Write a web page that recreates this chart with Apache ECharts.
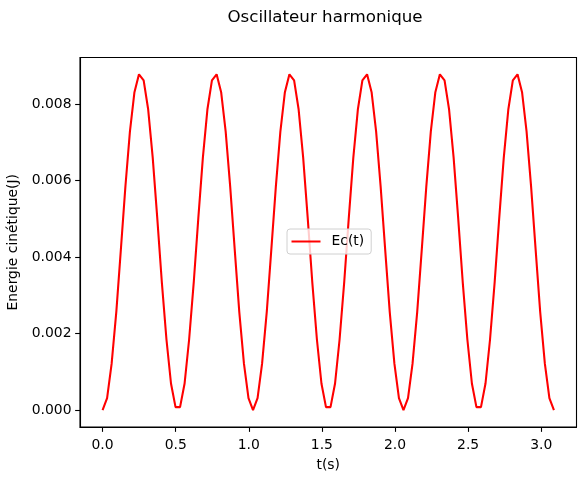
<!DOCTYPE html>
<html>
<head>
<meta charset="utf-8">
<script src="https://cdn.jsdelivr.net/npm/echarts@6/dist/echarts.min.js"></script>
<style>
html,body{margin:0;padding:0;background:#fff;}
#c{width:585px;height:480px;}
</style>
</head>
<body>
<div id="c"></div>
<script>
// Time samples (s)
const tValues = [
  0.000, 0.031, 0.062, 0.094, 0.125, 0.156, 0.187, 0.218, 0.249, 0.281,
  0.312, 0.343, 0.374, 0.405, 0.437, 0.468, 0.499, 0.530, 0.561, 0.592,
  0.624, 0.655, 0.686, 0.717, 0.748, 0.780, 0.811, 0.842, 0.873, 0.904,
  0.935, 0.967, 0.998, 1.029, 1.060, 1.091, 1.123, 1.154, 1.185, 1.216,
  1.247, 1.278, 1.310, 1.341, 1.372, 1.403, 1.434, 1.466, 1.497, 1.528,
  1.559, 1.590, 1.621, 1.653, 1.684, 1.715, 1.746, 1.777, 1.809, 1.840,
  1.871, 1.902, 1.933, 1.964, 1.996, 2.027, 2.058, 2.089, 2.120, 2.152,
  2.183, 2.214, 2.245, 2.276, 2.307, 2.339, 2.370, 2.401, 2.432, 2.463,
  2.495, 2.526, 2.557, 2.588, 2.619, 2.650, 2.682, 2.713, 2.744, 2.775,
  2.806, 2.838, 2.869, 2.900, 2.931, 2.962, 2.993, 3.025, 3.056, 3.087
];
// Kinetic energy Ec(t) (J)
const ecValues = [
  0.000000, 0.000315, 0.001216, 0.002572, 0.004191, 0.005839, 0.007281, 0.008311, 0.008780, 0.008622,
  0.007859, 0.006600, 0.005026, 0.003363, 0.001848, 0.000698, 0.000080, 0.000080, 0.000698, 0.001848,
  0.003363, 0.005026, 0.006600, 0.007859, 0.008622, 0.008780, 0.008311, 0.007281, 0.005839, 0.004191,
  0.002572, 0.001216, 0.000315, 0.000000, 0.000315, 0.001216, 0.002572, 0.004191, 0.005839, 0.007281,
  0.008311, 0.008780, 0.008622, 0.007859, 0.006600, 0.005026, 0.003363, 0.001848, 0.000698, 0.000080,
  0.000080, 0.000698, 0.001848, 0.003363, 0.005026, 0.006600, 0.007859, 0.008622, 0.008780, 0.008311,
  0.007281, 0.005839, 0.004191, 0.002572, 0.001216, 0.000315, 0.000000, 0.000315, 0.001216, 0.002572,
  0.004191, 0.005839, 0.007281, 0.008311, 0.008780, 0.008622, 0.007859, 0.006600, 0.005026, 0.003363,
  0.001848, 0.000698, 0.000080, 0.000080, 0.000698, 0.001848, 0.003363, 0.005026, 0.006600, 0.007859,
  0.008622, 0.008780, 0.008311, 0.007281, 0.005839, 0.004191, 0.002572, 0.001216, 0.000315, 0.000000
];
const xTicks = [0.0, 0.5, 1.0, 1.5, 2.0, 2.5, 3.0];
const yTicks = [0.000, 0.002, 0.004, 0.006, 0.008];

const seriesData = tValues.map((t, i) => [t, ecValues[i]]);
const FONT = 'DejaVu Sans';

const chart = echarts.init(document.getElementById('c'), null, {renderer: 'canvas'});
chart.setOption({
  animation: false,
  backgroundColor: '#ffffff',
  title: {
    text: 'Oscillateur harmonique',
    left: 320,
    top: 4,
    textAlign: 'center',
    textStyle: {fontFamily: FONT, fontSize: 16.7, fontWeight: 'normal', color: '#000'}
  },
  legend: {
    left: 287,
    top: 229,
    orient: 'horizontal',
    data: [{name: 'Ec(t)', icon: 'rect'}],
    itemWidth: 29,
    itemHeight: 2,
    padding: [5, 7, 5, 4.5],
    backgroundColor: 'rgba(255,255,255,0.8)',
    borderColor: '#d0d0d0',
    borderWidth: 1,
    borderRadius: 3,
    itemStyle: {color: '#ff0000', borderWidth: 0},
    textStyle: {fontFamily: FONT, fontSize: 13.9, color: '#000', padding: [0, 0, 0, 6], lineHeight: 15}
  },
  grid: {
    left: 80,
    right: 8.5,
    top: 57.5,
    bottom: 53,
    show: true,
    containLabel: false,
    outerBoundsMode: 'none',
    borderColor: '#000',
    borderWidth: 1.1,
    backgroundColor: 'transparent'
  },
  xAxis: {
    type: 'value',
    min: -0.15435,
    max: 3.2414,
    name: 't(s)',
    nameLocation: 'middle',
    nameGap: 31,
    nameTextStyle: {fontFamily: FONT, fontSize: 13.9, color: '#000'},
    axisLine: {show: true, onZero: false, lineStyle: {color: '#000', width: 1.1}},
    axisTick: {show: true, length: 4.86, inside: false, customValues: xTicks, lineStyle: {color: '#000', width: 1.1}},
    axisLabel: {
      customValues: xTicks,
      margin: 11,
      fontFamily: FONT, fontSize: 13.9, color: '#000',
      formatter: v => v.toFixed(1)
    },
    splitLine: {show: false}
  },
  yAxis: {
    type: 'value',
    min: -0.000439,
    max: 0.009219,
    name: 'Energie cinétique(J)',
    nameLocation: 'middle',
    nameGap: 53,
    nameTextStyle: {fontFamily: FONT, fontSize: 13.9, color: '#000'},
    axisLine: {show: true, onZero: false, lineStyle: {color: '#000', width: 1.1}},
    axisTick: {show: true, length: 4.86, inside: false, customValues: yTicks, lineStyle: {color: '#000', width: 1.1}},
    axisLabel: {
      customValues: yTicks,
      margin: 8.5,
      fontFamily: FONT, fontSize: 13.9, color: '#000',
      formatter: v => v.toFixed(3)
    },
    splitLine: {show: false}
  },
  series: [{
    name: 'Ec(t)',
    type: 'line',
    data: seriesData,
    symbol: 'none',
    showSymbol: false,
    smooth: false,
    lineStyle: {color: '#ff0000', width: 2.08},
    itemStyle: {color: '#ff0000'},
    z: 2
  }]
});
</script>
</body>
</html>
